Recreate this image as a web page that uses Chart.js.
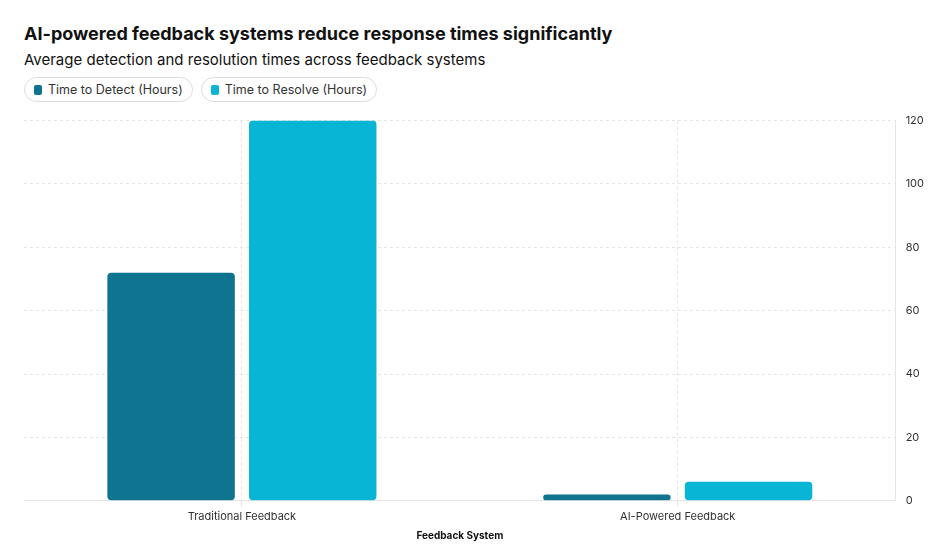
<!DOCTYPE html>
<html><head><meta charset="utf-8">
<script src="https://cdn.jsdelivr.net/npm/chart.js@4"></script>
<style>
body{margin:0;font-family:Inter,sans-serif;background:#fff;color:#111}
#wrap{width:944px;height:546px;position:relative}
h1{margin:0;position:absolute;left:24px;top:23px;font-size:18px;font-weight:700}
h2{margin:0;position:absolute;left:24px;top:50px;font-size:15px;font-weight:400}
#legend{position:absolute;left:24px;top:77px;display:flex;gap:8px}
.pill{border:1px solid #ddd;border-radius:14px;padding:4px 9px;font-size:12.5px;color:#333;display:flex;align-items:center;gap:6px}
.sw{width:8px;height:10px;border-radius:2px}
#c{position:absolute;left:0;top:104px}
</style></head><body>
<div id="wrap">
<h1>AI-powered feedback systems reduce response times significantly</h1>
<h2>Average detection and resolution times across feedback systems</h2>
<div id="legend"></div>
<canvas id="c" width="944" height="442"></canvas>
</div>
<script>
const categories = ["Traditional Feedback", "AI-Powered Feedback"];
const detectHours = [72, 2];
const resolveHours = [120, 6];
const seriesNames = ["Time to Detect (Hours)", "Time to Resolve (Hours)"];
const colors = ["#0f7490", "#08b5d5"];

const lg = document.getElementById("legend");
seriesNames.forEach((n, i) => {
  lg.innerHTML += `<div class="pill"><span class="sw" style="background:${colors[i]}"></span>${n}</div>`;
});

new Chart(document.getElementById("c"), {
  type: "bar",
  data: {
    labels: categories,
    datasets: [detectHours, resolveHours].map((d, i) => ({
      label: seriesNames[i], data: d, backgroundColor: colors[i],
      borderRadius: 4, borderSkipped: false,
      categoryPercentage: 0.65, barPercentage: 0.9,
    })),
  },
  options: {
    responsive: false, animation: false,
    layout: { padding: { left: 24, right: 10, top: 4 } },
    plugins: { legend: { display: false }, tooltip: { enabled: false } },
    scales: {
      x: {
        grid: { color: "#e5e5e5", borderDash: [3, 3], tickLength: 6, offset: false },
        border: { dash: [3, 3], color: "#e5e5e5" },
        ticks: { color: "#333", font: { family: "Inter", size: 11 } },
        title: { display: true, text: "Feedback System", color: "#111", font: { family: "Inter", size: 10, weight: "bold" } },
      },
      y: {
        position: "right", min: 0, max: 120,
        grid: { color: "#e5e5e5", tickLength: 0 },
        border: { dash: [3, 3], color: "#e5e5e5" },
        ticks: { stepSize: 20, color: "#333", padding: 10, font: { family: "Inter", size: 11 } },
      },
    },
  },
  plugins: [{
    id: "dashgrid",
    beforeDraw(c) { c.options.scales.y.grid.borderDash; }
  }],
});
</script>
</body></html>
